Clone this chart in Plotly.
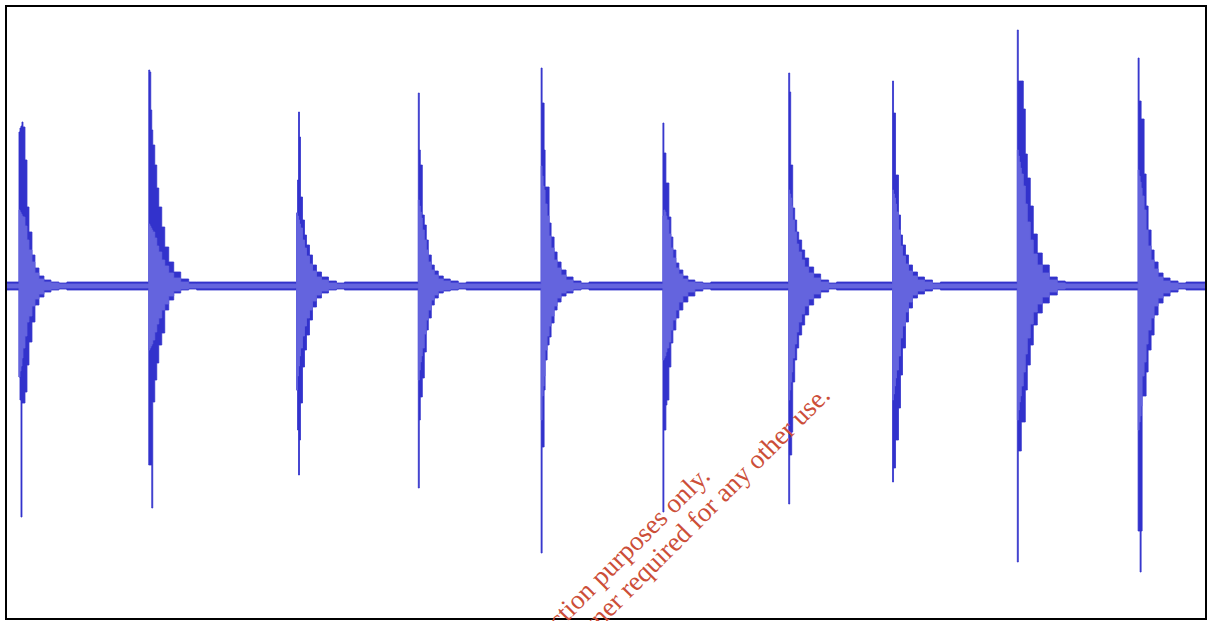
import plotly.graph_objects as go

# Waveform of 10 decaying bursts. Time in ms, amplitude in counts (0 = centre line).
DURATION = 1200
ONSETS = [11, 141, 289, 411, 534, 656, 782, 886, 1011, 1132]
OFFSETS = [0, 1, 2, 3, 4, 6, 8, 10, 13, 16, 20, 25, 32, 40]

# peak envelope (outer, dark) per burst
PEAK_UP = [
    [154, 158, 160, 164, 159, 126, 79, 54, 31, 18, 10, 6, 4, 3],
    [216, 214, 176, 156, 141, 121, 98, 79, 59, 39, 24, 14, 7, 4],
    [73, 106, 174, 149, 89, 66, 51, 41, 31, 21, 14, 9, 5, 3],
    [193, 136, 121, 121, 71, 61, 46, 31, 21, 15, 10, 7, 5, 3],
    [218, 183, 183, 136, 99, 99, 63, 49, 34, 24, 16, 9, 5, 3],
    [163, 133, 133, 103, 103, 69, 49, 36, 23, 16, 10, 6, 4, 3],
    [213, 194, 121, 121, 78, 66, 54, 46, 36, 28, 19, 12, 6, 3],
    [205, 173, 173, 111, 111, 71, 51, 41, 31, 21, 14, 9, 6, 3],
    [256, 205, 205, 205, 205, 177, 132, 108, 80, 52, 33, 21, 9, 5],
    [228, 185, 185, 167, 167, 112, 80, 56, 36, 24, 13, 8, 5, 3],
]
PEAK_LO = [
    [-91, -114, -231, -117, -117, -106, -79, -56, -36, -19, -11, -6, -4, -3],
    [-179, -179, -179, -222, -116, -94, -77, -59, -47, -24, -14, -7, -4, -3],
    [-104, -144, -189, -154, -117, -81, -64, -49, -34, -21, -12, -7, -4, -3],
    [-202, -134, -111, -111, -92, -66, -44, -32, -19, -12, -7, -5, -4, -3],
    [-267, -161, -161, -104, -74, -59, -51, -37, -24, -16, -10, -7, -4, -3],
    [-226, -144, -144, -119, -114, -81, -57, -44, -32, -24, -16, -10, -5, -3],
    [-218, -169, -169, -146, -96, -74, -62, -49, -39, -29, -19, -12, -6, -3],
    [-196, -182, -182, -154, -154, -122, -89, -62, -36, -22, -12, -8, -5, -3],
    [-276, -165, -165, -165, -136, -136, -104, -79, -59, -39, -27, -17, -9, -4],
    [-245, -245, -286, -245, -110, -110, -86, -64, -49, -29, -17, -10, -6, -3],
]

# rms envelope (inner, light) per burst
RMS_UP = [
    [76, 74, 72, 70, 69, 60, 46, 36, 24, 13, 7, 4, 3, 2],
    [62, 60, 58, 56, 54, 48, 40, 34, 26, 20, 13, 8, 4, 2],
    [73, 70, 66, 62, 58, 46, 38, 30, 22, 15, 9, 6, 3, 2],
    [86, 80, 74, 68, 56, 46, 36, 24, 16, 11, 7, 5, 3, 2],
    [120, 110, 100, 96, 82, 70, 50, 38, 26, 18, 11, 6, 3, 2],
    [70, 76, 74, 70, 66, 52, 38, 28, 18, 12, 7, 4, 3, 2],
    [96, 92, 88, 80, 66, 54, 42, 34, 26, 19, 13, 8, 4, 2],
    [96, 92, 88, 82, 74, 56, 40, 30, 22, 15, 10, 6, 4, 2],
    [136, 130, 124, 118, 112, 100, 82, 64, 46, 32, 21, 13, 6, 3],
    [116, 110, 104, 98, 90, 76, 56, 40, 26, 17, 9, 5, 3, 2],
]
RMS_LO = [
    [-91, -85, -80, -72, -62, -50, -36, -30, -20, -13, -8, -4, -3, -2],
    [-64, -62, -60, -58, -54, -46, -38, -32, -24, -18, -10, -5, -3, -2],
    [-104, -90, -80, -70, -62, -50, -40, -32, -24, -15, -9, -5, -3, -2],
    [-94, -84, -76, -70, -62, -48, -34, -24, -14, -9, -5, -4, -3, -2],
    [-134, -110, -100, -90, -64, -50, -40, -30, -20, -12, -7, -5, -3, -2],
    [-74, -72, -70, -66, -62, -56, -44, -34, -24, -16, -10, -6, -3, -2],
    [-114, -104, -96, -86, -72, -58, -46, -36, -28, -20, -13, -8, -4, -2],
    [-114, -108, -100, -92, -84, -70, -52, -40, -26, -16, -9, -5, -3, -2],
    [-134, -124, -116, -110, -100, -86, -68, -52, -38, -26, -18, -11, -6, -3],
    [-144, -136, -130, -120, -90, -76, -58, -44, -32, -20, -12, -7, -4, -2],
]

NOISE_PEAK = 4
NOISE_RMS = 2

DARK = 'rgb(50, 50, 204)'
LIGHT = 'rgb(100, 100, 222)'
MARK_RED = 'rgb(204, 78, 56)'


def envelope(rows, floor):
    xs, ys = [0], [floor]
    for t0, row in zip(ONSETS, rows):
        xs.append(t0)
        ys.append(floor)
        for dt, v in zip(OFFSETS, row):
            xs.append(t0 + dt + 1)
            ys.append(v)
        xs.append(t0 + OFFSETS[-1] + 9)
        ys.append(floor)
    xs.append(DURATION)
    ys.append(floor)
    return xs, ys


def band(lo_rows, up_rows, floor, colour):
    x_lo, y_lo = envelope(lo_rows, -floor)
    x_up, y_up = envelope(up_rows, floor)
    lower = go.Scatter(x=x_lo, y=y_lo, mode='lines', line=dict(color=colour, width=0.8, shape='hv'),
                       hoverinfo='skip')
    upper = go.Scatter(x=x_up, y=y_up, mode='lines', line=dict(color=colour, width=0.8, shape='hv'),
                       fill='tonexty', fillcolor=colour, hoverinfo='skip')
    return [lower, upper]


data = band(PEAK_LO, PEAK_UP, NOISE_PEAK, DARK) + band(RMS_LO, RMS_UP, NOISE_RMS, LIGHT)

fig = go.Figure(data=data)
fig.update_layout(width=1210, height=621,
                  margin=dict(l=7, r=3, t=7, b=3),
                  paper_bgcolor='white', plot_bgcolor='white',
                  showlegend=False)
fig.update_xaxes(range=[0, DURATION], showgrid=False, zeroline=False, showticklabels=False,
                 ticks='', showline=True, mirror=True, linecolor='black', linewidth=2)
fig.update_yaxes(range=[-332, 279], showgrid=False, zeroline=False, showticklabels=False,
                 ticks='', showline=True, mirror=True, linecolor='black', linewidth=2)

# watermark
fig.add_annotation(x=712, y=-172, xref='x', yref='y', xanchor='right', yanchor='top',
                   text='Reproduced for instruction purposes only.',
                   textangle=-45, showarrow=False,
                   font=dict(family='Liberation Serif', size=27, color=MARK_RED))
fig.add_annotation(x=833, y=-91, xref='x', yref='y', xanchor='right', yanchor='top',
                   text='Permission of the owner required for any other use.',
                   textangle=-45, showarrow=False,
                   font=dict(family='Liberation Serif', size=27, color=MARK_RED))

fig.write_html('out.html', config={'displayModeBar': False},
               post_script="document.body.style.margin='0';")
